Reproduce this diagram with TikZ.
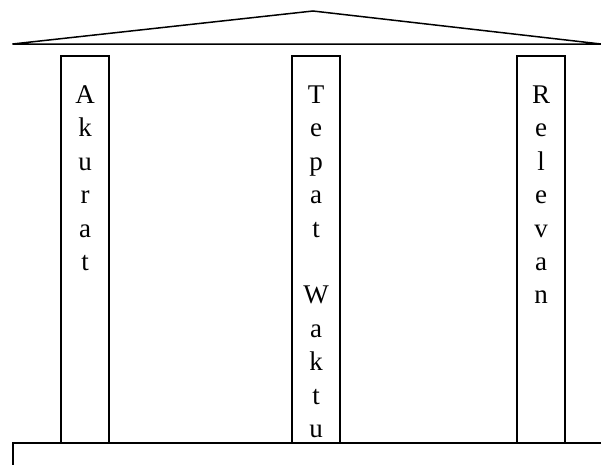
\documentclass[tikz,border=0pt]{standalone}
\usepackage{fontspec}
\setmainfont{Liberation Serif}
\tikzset{
  pillar/.style={draw,line width=1.5pt,minimum width=48pt,minimum height=387pt,inner sep=0pt},
  letter/.style={anchor=base,inner sep=0pt,font=\fontsize{27}{30}\selectfont},
}
\begin{document}
\begin{tikzpicture}[x=1pt,y=-1pt,line width=1.5pt]
        \useasboundingbox (0,0) rectangle (601,464);
        \clip (0,0) rectangle (601,464);
        % roof
        \draw (12.5,44) -- (313,11) -- (601,44) -- cycle;
        % three pillars
        \node[pillar] (akurat) at (85,249.5) {};
        \node[pillar] (tepat) at (316,249.5) {};
        \node[pillar] (relevan) at (541,249.5) {};
        \foreach \ch [count=\i from 0] in {A,k,u,r,a,t}
          \node[letter] at (85,{103.5+33.4*\i}) {\ch};
        \foreach \ch [count=\i from 0] in {T,e,p,a,t,{},W,a,k,t,u}
          \node[letter] at (316,{103.5+33.4*\i}) {\ch};
        \foreach \ch [count=\i from 0] in {R,e,l,e,v,a,n}
          \node[letter] at (541,{103.5+33.4*\i}) {\ch};
        % floor
        \draw (13,475) -- (13,443) -- (615,443);
\end{tikzpicture}
\end{document}
